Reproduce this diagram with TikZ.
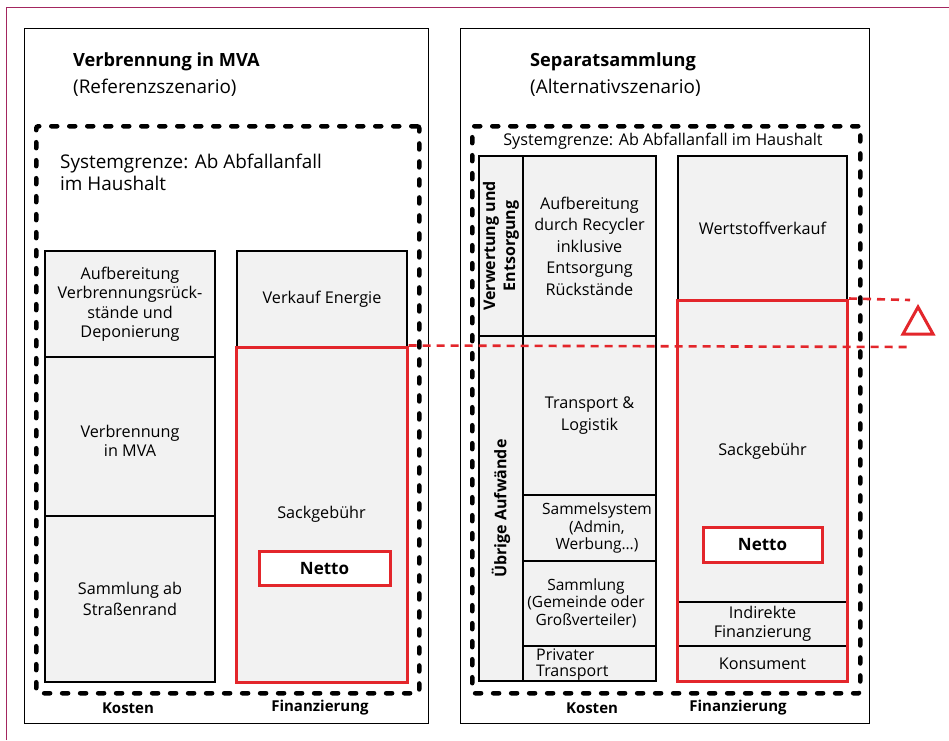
\documentclass[tikz,border=0pt]{standalone}
\usepackage{fontspec}
\setmainfont{Open Sans}
\definecolor{framec}{HTML}{A3265F}
\definecolor{redc}{HTML}{E3262B}
\definecolor{cellgray}{HTML}{F2F2F2}
\newcommand\fsA{\fontsize{16.2}{19.5}\selectfont}
\newcommand\fsB{\fontsize{16.2}{21.5}\selectfont}
\newcommand\fsC{\fontsize{15.5}{17.5}\selectfont}
\newcommand\fsD{\fontsize{16}{16}\selectfont}
\newcommand\fsT{\fontsize{18.2}{20}\selectfont\bfseries}
\newcommand\fsS{\fontsize{18.9}{22}\selectfont}
\newcommand\fsL{\fontsize{15}{18}\selectfont\bfseries}
\newcommand\fsV{\fontsize{16}{20}\selectfont\bfseries}
\tikzset{
  panel/.style={draw=black, line width=1.4pt, anchor=north west, inner sep=0pt},
  sysb/.style={draw=black, line width=4.5pt, line cap=round, dash pattern=on 6pt off 12pt, anchor=north west, inner sep=0pt, rounded corners=2pt},
  cell/.style={draw=black, line width=1.6pt, fill=cellgray, inner sep=0pt, align=center, font=\fsA},
  redframe/.style={draw=redc, line width=3pt, inner sep=0pt},
  netto/.style={draw=redc, line width=3pt, fill=white, inner sep=0pt, font=\fontsize{17}{20}\selectfont\bfseries},
  txt/.style={inner sep=0pt, align=center, font=\fsA},
  reddash/.style={draw=redc, line width=2.6pt, dash pattern=on 8pt off 6pt},
}
\begin{document}
\begin{tikzpicture}[x=1pt,y=-1pt]
\useasboundingbox (0,0) rectangle (949,740);
\fill[white] (0,0) rectangle (949,740);
% outer frame
\coordinate (fr0) at (6.5,740);
\coordinate (fr1) at (6.5,7);
\coordinate (fr2) at (949,7);
\draw[framec, line width=1pt] (fr0) -- (fr1) -- (fr2);
% panels
\node[panel, minimum width=404pt, minimum height=695pt] (pL) at (24,28) {};
\node[panel, minimum width=409pt, minimum height=695pt] (pR) at (460,28) {};
% titles
\node[anchor=west, font=\fsT, inner sep=0pt] (tL) at (73,62) {Verbrennung in MVA};
\node[anchor=west, font=\fsS, inner sep=0pt] (tL2) at (73,88) {(Referenzszenario)};
\node[anchor=west, font=\fsT, inner sep=0pt] (tR) at (530,62) {Separatsammlung};
\node[anchor=west, font=\fsS, inner sep=0pt] (tR2) at (530,88) {(Alternativszenario)};
% system boundaries
\node[sysb, minimum width=383pt, minimum height=567pt] (sL) at (34,124) {};
\node[sysb, minimum width=388pt, minimum height=567pt] (sR) at (470,124) {};
\node[anchor=west, align=left, font=\fsS, inner sep=0pt] (sgL) at (60,172) {Systemgrenze: Ab Abfallanfall\\im Haushalt};
\node[txt] (sgR) at (663,141) {Systemgrenze: Ab Abfallanfall im Haushalt};
% left costs
\node[cell, minimum width=170pt, minimum height=106pt] (a1) at (130,304) {Aufbereitung\\Verbrennungsrück-\\stände und\\Deponierung};
\node[cell, minimum width=170pt, minimum height=159pt] (a2) at (130,436.5) {};
\node[txt] (a2t) at (130,441) {Verbrennung\\in MVA};
\node[cell, minimum width=170pt, minimum height=166pt, font=\fsB] (a3) at (130,599) {Sammlung ab\\Straßenrand};
% left financing
\node[cell, minimum width=170pt, minimum height=96pt] (ve) at (322,299) {Verkauf Energie};
\node[cell, draw=redc, line width=3pt, minimum width=171pt, minimum height=335pt] (sLf) at (321.5,514.5) {Sackgebühr};
\node[netto, minimum width=131pt, minimum height=34pt] (nL) at (324.5,568) {Netto};
% right costs
\node[cell, rotate=90, font=\fsV, minimum width=180pt, minimum height=44pt] (v1) at (501,246) {Verwertung und\\Entsorgung};
\node[cell, rotate=90, font=\fsV, minimum width=345pt, minimum height=44pt] (v2) at (501,508.5) {Übrige Aufwände};
\node[cell, font=\fsB, minimum width=133pt, minimum height=180pt] (w1) at (589.5,246) {Aufbereitung\\durch Recycler\\inklusive\\Entsorgung\\Rückstände};
\node[cell, font=\fsB, minimum width=133pt, minimum height=159pt] (w2) at (589.5,415.5) {Transport \&\\Logistik};
\node[cell, minimum width=133pt, minimum height=66pt] (w3) at (589.5,528) {};
\node[txt, font=\fsC] (w3t) at (597,528) {Sammelsystem\\(Admin,\\Werbung…)};
\node[cell, minimum width=133pt, minimum height=85pt] (w4) at (589.5,603.5) {};
\node[txt, font=\fsC] (w4t) at (586,603) {Sammlung\\(Gemeinde oder\\Großverteiler)};
\node[cell, minimum width=133pt, minimum height=35pt] (w5) at (589.5,663.5) {};
\node[txt, font=\fsD, align=left, anchor=west] (w5t) at (536,665) {Privater\\Transport};
% right financing
\node[cell, minimum width=169pt, minimum height=144pt] (wv) at (762.5,228) {Wertstoffverkauf};
\node[cell, minimum width=169pt, minimum height=302pt] (sRf) at (762.5,451) {Sackgebühr};
\node[cell, minimum width=169pt, minimum height=44pt] (ind) at (762.5,624) {Indirekte\\Finanzierung};
\node[cell, minimum width=169pt, minimum height=35pt] (kon) at (762.5,663.5) {Konsument};
\node[redframe, minimum width=170pt, minimum height=381pt] (rR) at (762.5,490.5) {};
\node[netto, minimum width=119pt, minimum height=35pt] (nR) at (762.5,544.5) {Netto};
% bottom labels
\node[txt, font=\fsL] (kL) at (128,708) {Kosten};
\node[txt, font=\fsL] (fLb) at (320,708) {Finanzierung};
\node[txt, font=\fsL] (kR) at (592,708) {Kosten};
\node[txt, font=\fsL] (fRb) at (738,708) {Finanzierung};
% red dashed comparison lines
\coordinate (d1) at (912,347);
\coordinate (d2) at (910,300);
\draw[reddash] (sLf.north east) -- (d1);
\draw[reddash] (rR.north east) -- (d2);
% delta triangle
\coordinate (t1) at (903,334);
\coordinate (t2) at (933,334);
\coordinate (t3) at (918,307);
\draw[redc, line width=3pt] (t1) -- (t2) -- (t3) -- cycle;
\end{tikzpicture}
\end{document}
